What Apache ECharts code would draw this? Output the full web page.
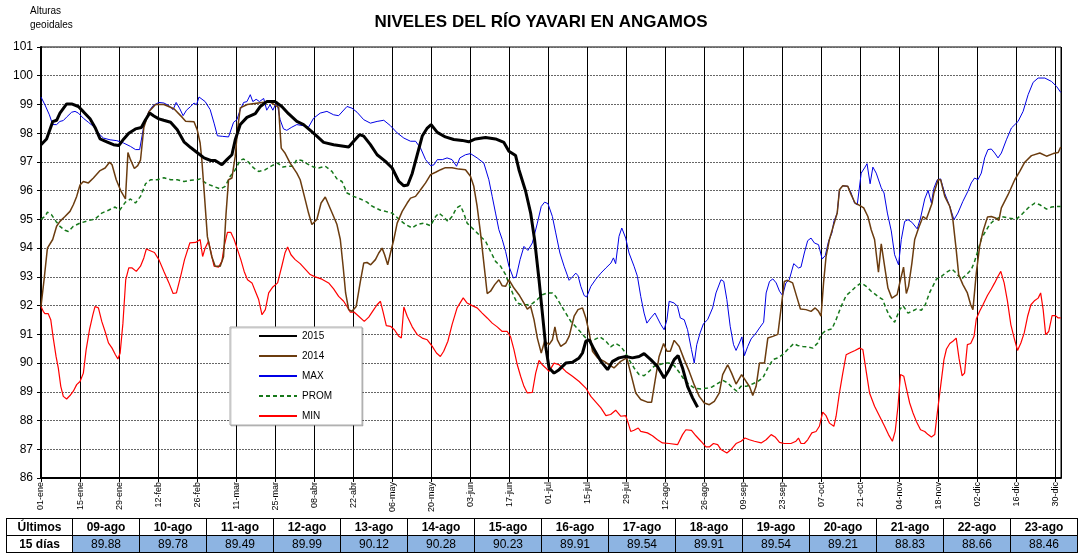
<!DOCTYPE html>
<html>
<head>
<meta charset="utf-8">
<title>Niveles del río Yavari en Angamos</title>
<script src="https://cdn.jsdelivr.net/npm/echarts@6/dist/echarts.min.js"></script>
<style>
  html, body { margin: 0; padding: 0; background: #fff; overflow: hidden; }
  #chart { position: absolute; left: 0; top: 0; width: 1082px; height: 553px; }
  #tbl { position: absolute; left: 6px; top: 518px; }
  #tbl table { border-collapse: collapse; font-family: 'Liberation Sans Narrow', 'Liberation Sans', Arial, sans-serif; font-size: 12px; }
  #tbl td { border: 1px solid #000; height: 16px; padding: 0; text-align: center; line-height: 16px; }
  #tbl .head td { font-weight: bold; background: #fff; }
  #tbl .vals td { background: #8db4e2; }
  #tbl .vals td.first { background: #fff; font-weight: bold; }
</style>
</head>
<body>
<div id="chart"></div>
<div id="tbl"></div>
<script>
// dia del año (0 = 01-ene) y nivel en metros
var months = ['ene', 'feb', 'mar', 'abr', 'may', 'jun', 'jul', 'ago', 'sep', 'oct', 'nov', 'dic'];
var seriesNames = ['2015', '2014', 'MAX', 'PROM', 'MIN'];

var data2015 = [[0,97.6],[2,97.8],[4.2,98.4],[5.6,98.45],[6.8,98.7],[9.2,99.02],[11,99.02],[13.4,98.93],[15.2,98.75],[17.6,98.5],[19.4,98.2],[21.2,97.8],[23.6,97.7],[26,97.6],[27.9,97.57],[29.7,97.8],[31.5,98.0],[33.9,98.15],[36,98.2],[37.5,98.47],[39,98.7],[40.5,98.6],[42.3,98.5],[44,98.45],[46.5,98.38],[48.9,98.12],[51.3,97.7],[53.7,97.5],[56,97.33],[58.5,97.14],[60.9,97.05],[62.5,97.05],[64.9,96.9],[66.7,97.08],[68.5,97.25],[69.7,97.77],[71.5,98.3],[73.9,98.55],[76.9,98.68],[78.7,98.93],[81,99.1],[84,99.1],[86.4,98.93],[88.8,98.68],[91.8,98.41],[94.2,98.3],[96,98.15],[98.4,97.95],[101.4,97.68],[105,97.6],[110.4,97.52],[112.2,97.72],[114.3,97.95],[115.8,97.9],[118.2,97.6],[120.6,97.25],[123.6,97.02],[126,96.79],[128.4,96.32],[130.2,96.17],[131.6,96.2],[133.2,96.6],[135,97.25],[136.8,97.9],[138.6,98.18],[140,98.3],[142.2,98.03],[145.1,97.87],[148.1,97.78],[151.1,97.75],[153.5,97.7],[155.9,97.8],[159.5,97.85],[163.1,97.8],[166.1,97.68],[167.9,97.37],[170.3,97.22],[171.5,96.73],[173.9,95.98],[175.7,95.22],[177.1,94.3],[178.7,92.9],[179.9,91.74],[181.1,90.58],[182.3,89.83],[184.1,89.65],[185.9,89.77],[188.3,90.0],[190.7,90.03],[193.1,90.18],[194.3,90.35],[195.5,90.76],[196.7,90.81],[198.5,90.47],[200.9,90.06],[203.3,89.77],[205.1,90.06],[207.4,90.18],[209.8,90.23],[212.2,90.18],[214.6,90.23],[216.4,90.33],[218.8,90.12],[221.2,89.88],[223.6,89.48],[225.4,89.77],[227.2,90.12],[228.6,90.26],[230.2,89.83],[232,89.19],[233.8,88.79],[235.6,88.46]];

var data2014 = [[0,91.97],[1.1,92.9],[2.3,94.0],[4.2,94.3],[5.6,94.76],[6.8,94.93],[8.6,95.1],[10.4,95.28],[11.6,95.51],[12.8,95.8],[14,96.2],[15.2,96.32],[17,96.27],[18.8,96.44],[21.2,96.7],[23,96.79],[24.6,96.99],[25.5,96.9],[27,96.38],[28.7,95.98],[30.3,95.71],[31.2,97.33],[32.1,97.08],[33.5,96.77],[34.7,96.87],[35.7,97.06],[36.9,98.2],[38.7,98.75],[41.1,99.0],[44.1,99.0],[47.7,98.85],[50.7,98.55],[51.9,98.42],[54.9,98.4],[56.1,98.1],[57.1,97.66],[57.7,97.08],[58.5,96.03],[59.7,94.4],[61.3,93.7],[62.5,93.37],[64.3,93.37],[65.5,93.7],[66.4,95.2],[67.3,96.38],[68.5,96.44],[69.7,97.2],[70.5,98.1],[71.5,98.88],[74,99.0],[78,99.05],[82,99.1],[85.3,98.9],[85.6,98.36],[86.2,97.48],[87.6,97.3],[89.4,96.96],[91.8,96.61],[93,96.38],[94.8,95.69],[96,95.22],[97.2,94.82],[99,95.0],[100.5,95.57],[102,95.78],[103.2,95.51],[105,95.1],[106.2,94.82],[107.4,94.3],[108.4,93.37],[109.3,92.44],[110.4,91.86],[111.6,91.8],[113.1,91.97],[114.6,92.84],[115.8,93.48],[117,93.5],[118.3,93.42],[120,93.6],[121.2,93.83],[122.4,94.0],[123.3,93.77],[124.4,93.42],[125.4,93.83],[126.6,94.3],[127.8,94.87],[129.6,95.28],[131.4,95.57],[132.6,95.74],[134.4,95.8],[136.2,96.03],[138,96.27],[139.8,96.56],[141.6,96.64],[143.4,96.73],[145.1,96.8],[147.5,96.8],[149.9,96.75],[152.3,96.73],[154.1,96.5],[155.3,96.15],[156.5,95.45],[157.7,94.53],[158.9,93.48],[160.1,92.42],[161.3,92.5],[162.8,92.73],[164.3,92.9],[165.5,92.69],[166.7,92.67],[167.9,92.9],[169.7,92.61],[171.5,92.38],[173.3,92.09],[174.5,91.88],[175.7,91.97],[176.9,91.51],[178.1,90.87],[179.5,90.35],[180.7,90.76],[182.3,90.64],[183.5,90.81],[184.4,91.26],[185.3,90.81],[186.5,90.58],[188.3,90.7],[189.5,90.93],[191.3,91.63],[192.7,91.86],[194.3,91.92],[195.5,91.57],[196.7,91.05],[197.9,90.41],[199.7,90.18],[202.1,90.06],[203.9,89.94],[205.6,89.83],[208,90.06],[210.2,90.18],[211.6,89.65],[213.4,88.96],[215.2,88.73],[217.6,88.64],[219.1,88.64],[220.6,89.54],[221.8,90.23],[223.4,90.68],[224.6,90.41],[225.8,90.41],[227.2,90.79],[229,90.58],[230.8,90.12],[232.6,89.71],[234.4,89.24],[236.2,88.84],[238,88.61],[239.8,88.55],[241.6,88.67],[243.4,88.96],[244.6,89.6],[246.4,89.94],[247.8,89.65],[249.4,89.27],[251.4,89.6],[253,89.36],[254.2,89.19],[255.4,88.87],[256.6,89.19],[257.8,90.0],[259.6,90.0],[260.8,90.87],[262.6,90.93],[264.4,91.0],[265.8,92.1],[266.7,92.84],[267.9,92.88],[269.7,92.79],[271.3,92.27],[272.5,91.88],[274.5,91.86],[276.3,91.8],[277.8,91.92],[279,91.8],[279.9,91.63],[280.8,92.79],[281.7,93.71],[282.9,94.3],[284.1,94.7],[285.7,95.22],[286.5,96.03],[287.7,96.17],[289.5,96.15],[290.7,95.86],[292.1,95.57],[293.7,95.49],[295.2,95.4],[296.7,95.1],[297.9,94.64],[299.1,94.3],[300.5,93.16],[301.5,94.15],[302.7,93.37],[303.9,92.61],[305.3,92.26],[307.2,92.38],[308.4,92.9],[309.5,93.34],[310.5,92.42],[311.3,92.67],[312.5,93.48],[313.5,94.3],[314.9,94.7],[316.5,95.1],[317.7,95.01],[318.9,95.34],[319.7,95.55],[320.4,95.92],[321.9,96.38],[322.8,96.38],[324.3,95.8],[326.1,95.45],[327.2,94.99],[328.4,93.94],[329.3,93.07],[330.8,92.73],[332.4,92.44],[333.6,92.03],[334.4,91.86],[335.6,93.13],[336.8,94.06],[338,94.58],[339.6,95.08],[341,95.1],[342.5,95.05],[343.7,94.97],[344.6,95.4],[347,95.86],[349.4,96.38],[351.2,96.67],[353,96.99],[355.4,97.22],[358.4,97.31],[360.8,97.2],[363.2,97.29],[365,97.33],[365.9,97.52]];

var dataMax = [[0,99.26],[1.4,98.99],[3,98.64],[4.2,98.3],[5.6,98.3],[6.8,98.41],[8,98.44],[9.2,98.56],[11,98.73],[12.2,98.76],[13.4,98.7],[15.2,98.52],[17,98.38],[18.8,98.24],[20.6,98.0],[22.4,97.83],[24.8,97.77],[27.2,97.74],[29.6,97.66],[32.1,97.54],[33.9,97.43],[35.4,97.43],[36.9,98.26],[38.7,98.76],[40.2,98.96],[42.3,99.07],[44.1,99.05],[45.9,98.96],[47.4,98.82],[48.5,99.07],[49.7,98.87],[51,98.61],[52.2,98.8],[53.7,98.93],[54.9,99.05],[55.8,98.99],[56.7,99.26],[57.1,99.26],[58.9,99.1],[60.7,98.82],[62.1,98.35],[63.3,97.91],[65.2,97.89],[67.3,97.87],[69.1,98.38],[70.3,98.47],[71.5,98.82],[72.7,99.07],[73.9,99.1],[75.1,99.34],[76,99.1],[77.2,99.18],[78.4,99.1],[79.9,99.21],[81,98.8],[82.2,98.99],[83.2,98.8],[84.6,99.1],[85.8,98.47],[87,98.15],[88.2,98.1],[90,98.21],[91.8,98.3],[94.2,98.26],[96,98.21],[97.8,98.52],[100.2,98.7],[102.6,98.76],[105,98.64],[106.8,98.61],[109.8,98.93],[111.6,98.87],[113.4,98.73],[115.8,98.47],[118.2,98.35],[120.6,98.41],[123,98.45],[125.4,98.26],[127.8,98.01],[130.2,97.83],[132.6,97.72],[134.4,97.72],[136.2,97.48],[138,97.08],[139.8,96.87],[141,96.9],[142.2,97.08],[144,97.08],[145.7,97.14],[147.5,97.08],[149.1,96.85],[150.3,97.14],[152.3,97.25],[154.1,97.29],[156.5,97.14],[158.9,96.96],[160.7,96.38],[161.9,95.8],[163.1,95.22],[164.3,94.64],[165.5,94.3],[166.7,93.89],[167.9,93.37],[169.5,92.96],[170.5,93.0],[171.9,93.6],[173.3,94.06],[174.7,93.92],[176.3,94.18],[178.1,94.87],[179.5,95.45],[180.7,95.6],[181.9,95.55],[183.5,95.1],[184.7,94.53],[186.2,93.83],[187.7,93.37],[189.5,92.88],[190.7,93.0],[191.9,93.13],[192.7,93.04],[193.7,92.67],[194.9,92.35],[195.8,92.3],[197.3,92.67],[199.1,92.92],[200.9,93.13],[202.7,93.31],[204.5,93.48],[205.4,93.66],[206.2,93.46],[207.4,94.41],[208.4,94.7],[209.8,94.35],[211,93.83],[212.8,93.37],[214,93.02],[215.2,92.32],[216.4,91.74],[217.4,91.39],[218.8,91.57],[220.3,91.74],[221.2,91.57],[222.4,91.34],[223.6,91.16],[224.6,91.51],[225.4,92.15],[227.2,92.09],[228.4,91.97],[229.4,91.57],[230.8,91.51],[232,91.16],[233.4,90.47],[234.4,90.0],[235.3,90.64],[236.5,91.05],[237.7,91.37],[239.2,91.51],[241,91.92],[242.2,92.44],[244,92.9],[245,92.84],[246.1,92.21],[247.3,91.28],[248.5,90.64],[249.4,90.44],[250.6,90.7],[251.5,90.91],[252.4,90.26],[253.6,90.58],[254.8,90.84],[256.6,91.05],[257.8,91.22],[259.3,91.42],[260.2,92.44],[261.4,92.84],[262.6,92.93],[263.8,92.79],[265,92.5],[266.1,92.35],[267.3,92.79],[268.5,92.9],[270.1,93.46],[271.8,93.31],[272.7,93.34],[273.9,93.83],[275.1,94.26],[276.3,94.35],[277.5,94.18],[279,94.12],[280.3,93.62],[281.4,93.74],[282.6,94.24],[283.8,94.53],[284.5,94.93],[285.7,95.22],[286.5,96.03],[287.7,96.17],[289.5,96.15],[290.7,95.92],[291.9,95.57],[292.9,95.51],[294.3,96.61],[295.5,96.79],[296.4,96.94],[297.5,96.24],[298.5,96.82],[299.7,96.61],[301.5,96.1],[302.5,95.92],[303.7,95.22],[305.1,94.6],[306.3,93.77],[307.7,93.42],[308.7,94.3],[309.9,94.93],[311.1,94.99],[312.5,94.9],[314.4,94.67],[315.6,95.05],[317.1,95.71],[318.3,96.01],[319.5,95.57],[320.4,96.09],[321.6,96.38],[322.8,96.41],[324.3,95.9],[326.1,95.45],[327.6,94.99],[329,95.22],[330.8,95.63],[332.6,95.98],[333.8,96.27],[335,96.44],[336.2,96.38],[337.4,96.61],[338.6,97.14],[339.8,97.43],[341,97.45],[342.2,97.31],[343.4,97.14],[344.6,97.31],[346.4,97.77],[348.2,98.18],[350.6,98.41],[352.4,98.76],[354.2,99.34],[356,99.77],[357.8,99.92],[360.2,99.92],[362.6,99.8],[364.4,99.63],[365.9,99.42]];

var dataProm = [[0,95.01],[1.4,95.1],[2.3,95.25],[3.8,95.16],[5.4,94.93],[6.8,94.76],[8.6,94.62],[9.8,94.58],[11.6,94.76],[14,94.87],[17,94.96],[19.4,95.01],[21.8,95.22],[24.2,95.32],[26.6,95.43],[28.2,95.32],[30.3,95.6],[32.1,95.71],[33.9,95.57],[35.7,95.8],[37.5,96.24],[39.3,96.38],[41.7,96.38],[44.1,96.45],[46.5,96.38],[48.9,96.38],[51.3,96.32],[53.7,96.36],[56.1,96.38],[57.1,96.41],[59.5,96.24],[61.9,96.15],[64.3,96.06],[66.1,96.15],[67.9,96.5],[69.7,96.73],[71.5,97.06],[72.7,97.1],[74.5,96.99],[76.3,96.79],[78.1,96.67],[80.5,96.73],[82.9,96.87],[84.9,96.96],[86.8,96.82],[88.8,96.85],[90.4,96.85],[91.8,97.08],[93.6,97.05],[95.4,96.94],[97.8,96.82],[99.6,96.79],[102,96.85],[104.4,96.67],[106.2,96.41],[108,96.32],[109.8,95.92],[112.2,95.8],[114.6,95.71],[117,95.6],[118.5,95.48],[120,95.4],[121.8,95.32],[123.6,95.28],[126,95.22],[128.4,95.01],[130.8,94.82],[133.2,94.7],[135,94.82],[137.4,94.87],[139.8,94.78],[141.6,95.1],[142.8,95.22],[144.3,95.1],[146,94.93],[147.5,95.1],[149.1,95.4],[150.5,95.48],[151.7,95.22],[152.9,94.87],[154.7,94.7],[156.5,94.53],[158.3,94.35],[159.5,94.24],[161.3,93.89],[163.1,93.54],[164.9,93.37],[166.7,93.08],[168.5,92.61],[169.7,92.32],[170.9,92.09],[172.7,92.03],[174.5,92.03],[176.3,92.07],[178.1,92.21],[179.9,92.38],[181.7,92.44],[183.5,92.44],[184.7,92.32],[186.5,92.03],[188.3,91.74],[190.1,91.45],[191.9,91.26],[193.7,91.07],[195.5,90.87],[197,90.76],[198.5,90.81],[200.6,90.91],[202.7,90.76],[204.4,90.56],[206.2,90.68],[208,90.58],[209.8,90.35],[211,90.12],[212.8,89.83],[214.6,89.6],[216.4,89.56],[218.2,89.71],[220,89.89],[221.8,89.94],[223.6,90.0],[225.4,90.0],[227.2,89.91],[229,89.68],[230.8,89.42],[232.6,89.25],[234.4,89.13],[236.8,89.1],[239.2,89.13],[240.8,89.17],[242.2,89.25],[244.6,89.4],[246.4,89.31],[248.2,89.13],[249.7,89.02],[251.2,89.19],[253,89.19],[254.8,89.25],[257.2,89.36],[259,89.48],[260.8,89.83],[262.6,90.12],[264.4,90.18],[266.1,90.29],[267.9,90.47],[270.1,90.68],[271.5,90.61],[273.3,90.58],[275.1,90.56],[276.9,90.52],[278.7,90.7],[279.9,90.99],[281.7,91.14],[283.8,91.19],[285.3,91.51],[287.1,91.97],[288.9,92.35],[290.7,92.5],[292.5,92.67],[294.3,92.79],[296.1,92.67],[297.9,92.5],[300.3,92.32],[302.1,92.21],[302.9,91.97],[304.5,91.63],[306.3,91.42],[308.1,91.86],[309.3,92.0],[311.1,91.74],[312.5,91.8],[314.1,91.88],[315.9,91.84],[317.3,92.03],[318.9,92.46],[321.3,92.92],[323.1,93.02],[324.9,93.16],[326.9,93.27],[328.4,93.13],[330.2,92.92],[332,93.07],[333.8,93.25],[335,93.54],[336.2,93.92],[337.4,94.32],[338.9,94.58],[340.4,94.82],[342.2,94.99],[344.6,95.1],[347,95.05],[350,95.01],[351.8,95.16],[354.2,95.4],[356.6,95.57],[358.4,95.51],[360.8,95.36],[362.6,95.43],[364.4,95.45],[365.9,95.45]];

var dataMin = [[0,91.97],[0.8,91.8],[1.4,91.72],[2.6,91.72],[3.5,91.51],[4.4,90.87],[5.4,90.23],[6.2,89.83],[7.1,89.19],[8,88.84],[9.2,88.75],[10.4,88.87],[11.6,89.02],[12.8,89.25],[14,89.36],[15.2,89.65],[16.2,90.47],[17.4,91.16],[18.6,91.68],[19.4,91.97],[20.6,91.92],[21.8,91.45],[23,91.1],[24.2,90.7],[25.5,90.52],[26.7,90.29],[27.6,90.14],[28.4,90.35],[29.4,91.39],[30.4,92.9],[31.5,93.31],[32.7,93.31],[34.2,93.19],[35.7,93.37],[36.9,93.66],[37.8,93.97],[39,93.92],[40.7,93.85],[42.3,93.6],[44.1,93.19],[45.9,92.79],[47.4,92.42],[48.6,92.44],[50.1,93.02],[51.5,93.6],[53.4,94.18],[55.5,94.2],[57.1,94.3],[58,93.71],[58.9,94.0],[60.1,94.24],[61.3,93.71],[62.1,93.37],[63.7,93.34],[64.9,93.54],[65.7,94.06],[66.9,94.55],[68.1,94.55],[69.3,94.3],[70.5,93.95],[71.7,93.6],[72.9,93.19],[74.1,92.9],[75.7,92.79],[76.9,92.5],[78.1,92.21],[79.3,91.68],[80.5,91.86],[81.7,92.44],[83.2,92.65],[84.9,92.79],[86.4,93.37],[87.6,93.85],[88.5,94.04],[89.7,93.77],[91.2,93.6],[93,93.46],[94.8,93.27],[96.6,93.08],[98.4,93.0],[100.8,92.92],[103.2,92.79],[105,92.58],[106.8,92.32],[108.6,92.15],[109.8,91.97],[111,91.77],[112.4,91.77],[114,91.63],[116,91.45],[117.6,91.6],[119.4,91.86],[120.6,92.03],[121.8,92.15],[122.7,91.8],[123.9,91.3],[125.4,91.28],[126.8,91.16],[128.4,90.93],[129.3,90.87],[130.2,91.95],[131.4,91.63],[133.2,91.26],[135,90.99],[136.8,90.87],[138.6,90.81],[140.4,90.58],[141.9,90.35],[143.3,90.23],[144.5,90.41],[146,90.76],[147.5,91.34],[149.3,91.92],[151.5,92.27],[152.9,92.09],[154.7,92.0],[156.5,91.92],[158.3,91.74],[160.1,91.57],[161.9,91.39],[163.7,91.26],[165.5,91.1],[167.3,91.1],[168.5,90.91],[169.7,90.47],[170.9,89.94],[172.1,89.54],[173.3,89.19],[174.5,88.96],[176.3,88.98],[177.5,89.65],[178.7,90.09],[179.9,89.94],[181.1,89.83],[182.3,89.71],[184.1,90.0],[185.9,89.94],[188.3,89.71],[190.7,89.54],[193.1,89.36],[195.5,89.13],[197.3,88.84],[199.1,88.64],[200.9,88.44],[202.7,88.17],[204.4,88.21],[206.2,88.36],[208,88.15],[209.8,88.17],[210.7,87.91],[211.6,87.62],[212.8,87.66],[214.3,87.74],[215.2,87.62],[217.6,87.57],[219.4,87.47],[221.2,87.33],[223,87.22],[225.4,87.2],[228.4,87.16],[230.2,87.51],[231.4,87.68],[233.4,87.66],[235,87.47],[236.8,87.28],[238.6,87.08],[239.8,87.08],[241.3,87.2],[242.8,87.16],[244,86.99],[246.1,86.87],[247.6,86.99],[249.4,87.2],[251.2,87.28],[252.6,87.39],[254.2,87.33],[256,87.28],[258.4,87.22],[260.2,87.33],[262,87.51],[263.4,87.43],[265,87.24],[266.7,87.2],[269.1,87.2],[270.9,87.28],[271.8,87.39],[272.7,87.2],[273.9,87.2],[275.1,87.33],[276.6,87.57],[278.1,87.62],[279.3,87.8],[280.5,88.29],[281.7,88.17],[282.9,87.91],[284.5,87.8],[285.3,88.15],[286.5,88.96],[287.7,89.65],[288.9,90.29],[290.5,90.37],[292.1,90.44],[293.7,90.52],[294.9,90.47],[296.1,89.71],[297.3,88.96],[299.1,88.5],[300.9,88.15],[302.7,87.8],[304.1,87.51],[305.5,87.28],[306.5,87.62],[307.5,88.49],[308.4,89.6],[309.6,89.54],[310.5,89.13],[311.7,88.61],[312.9,88.26],[314.1,87.97],[315.6,87.68],[317.1,87.62],[318.3,87.51],[319.5,87.43],[320.7,87.51],[321.6,88.26],[322.8,89.19],[324,90.12],[324.9,90.49],[326.1,90.68],[327.2,90.76],[328.4,90.87],[329.4,90.17],[330.5,89.56],[331.4,89.65],[332.4,90.64],[333.6,90.68],[334.8,90.93],[335.6,91.53],[336.8,91.8],[338,92.03],[339.6,92.35],[341,92.58],[342.2,92.79],[343.4,93.02],[344.4,93.19],[345.6,92.79],[346.8,92.15],[348,91.34],[349.2,90.87],[350.4,90.44],[351.6,90.7],[352.8,91.05],[354,91.62],[355.2,92.03],[356.6,92.18],[357.8,92.26],[358.7,92.44],[359.6,91.86],[360.5,90.99],[361.6,91.1],[362.8,91.65],[364,91.65],[365,91.57],[365.9,91.57]];

// tabla de los últimos 15 días
var tableDates = ['09-ago', '10-ago', '11-ago', '12-ago', '13-ago', '14-ago', '15-ago', '16-ago', '17-ago', '18-ago', '19-ago', '20-ago', '21-ago', '22-ago', '23-ago'];
var tableValues = ['89.88', '89.78', '89.49', '89.99', '90.12', '90.28', '90.23', '89.91', '89.54', '89.91', '89.54', '89.21', '88.83', '88.66', '88.46'];

function dayLabel(value) {
  var d = new Date(2016, 0, 1 + Math.round(value));
  var dd = d.getDate();
  return (dd < 10 ? '0' + dd : dd) + '-' + months[d.getMonth()];
}

var chart = echarts.init(document.getElementById('chart'), null, { renderer: 'canvas' });

var font = 'Liberation Sans, Arial, sans-serif';

var option = {
  animation: false,
  backgroundColor: '#fff',
  textStyle: { fontFamily: font },
  title: {
    text: 'NIVELES DEL RÍO YAVARI EN ANGAMOS',
    left: 'center',
    top: 9,
    textStyle: { fontSize: 17, fontWeight: 'bold', color: '#000', fontFamily: font }
  },
  graphic: [{
    type: 'text',
    left: 30,
    top: 4,
    style: { text: 'Alturas\ngeoidales', fontSize: 10, lineHeight: 14, fill: '#000', fontFamily: font }
  }],
  legend: {
    orient: 'vertical',
    left: 230,
    top: 327,
    padding: [4, 30, 4, 28],
    itemWidth: 38,
    itemHeight: 10,
    itemGap: 10,
    backgroundColor: '#fff',
    borderColor: '#aaa',
    borderWidth: 1,
    shadowColor: 'rgba(0,0,0,0.2)',
    shadowOffsetX: 1,
    shadowOffsetY: 1,
    itemStyle: { opacity: 0 },
    textStyle: { fontSize: 10, color: '#000', fontFamily: font },
    data: seriesNames
  },
  grid: {
    left: 41,
    right: 21,
    top: 47,
    bottom: 75,
    show: true,
    borderColor: '#000',
    borderWidth: 1
  },
  xAxis: {
    type: 'value',
    min: 0,
    max: 366,
    interval: 14,
    axisLine: { lineStyle: { color: '#000', width: 2 } },
    axisTick: { show: true, length: 4, lineStyle: { color: '#000' } },
    splitLine: { show: true, lineStyle: { color: '#000', width: 1 } },
    axisLabel: {
      rotate: 90,
      fontSize: 9,
      color: '#000',
      margin: 4,
      showMaxLabel: false,
      formatter: dayLabel
    }
  },
  yAxis: {
    type: 'value',
    min: 86,
    max: 101,
    interval: 1,
    axisLine: { show: true, lineStyle: { color: '#000', width: 2 } },
    axisTick: { show: true, length: 4, lineStyle: { color: '#000' } },
    splitLine: { show: true, lineStyle: { color: '#666', width: 1, type: [2, 1] } },
    axisLabel: { fontSize: 12, color: '#000', margin: 8 }
  },
  series: [
    {
      name: '2015', type: 'line', data: data2015, showSymbol: false, symbol: 'none', z: 6,
      lineStyle: { color: '#000', width: 3 }, itemStyle: { color: '#000' }
    },
    {
      name: '2014', type: 'line', data: data2014, showSymbol: false, symbol: 'none', z: 5,
      lineStyle: { color: '#6b3c0f', width: 1.5 }, itemStyle: { color: '#6b3c0f' }
    },
    {
      name: 'MAX', type: 'line', data: dataMax, showSymbol: false, symbol: 'none', z: 3,
      lineStyle: { color: '#0000e6', width: 1 }, itemStyle: { color: '#0000e6' }
    },
    {
      name: 'PROM', type: 'line', data: dataProm, showSymbol: false, symbol: 'none', z: 4,
      lineStyle: { color: '#16781a', width: 1.5, type: [4, 3] }, itemStyle: { color: '#16781a' }
    },
    {
      name: 'MIN', type: 'line', data: dataMin, showSymbol: false, symbol: 'none', z: 3,
      lineStyle: { color: '#ff0000', width: 1.2 }, itemStyle: { color: '#ff0000' }
    }
  ]
};

chart.setOption(option);

// tabla inferior
function buildTable() {
  var html = '<table>';
  html += '<tr class="head"><td style="width:65px">Últimos</td>';
  for (var i = 0; i < tableDates.length; i++) {
    html += '<td style="width:66px">' + tableDates[i] + '</td>';
  }
  html += '</tr><tr class="vals"><td class="first">15 días</td>';
  for (var j = 0; j < tableValues.length; j++) {
    html += '<td>' + tableValues[j] + '</td>';
  }
  html += '</tr></table>';
  document.getElementById('tbl').innerHTML = html;
}
buildTable();
</script>
</body>
</html>
